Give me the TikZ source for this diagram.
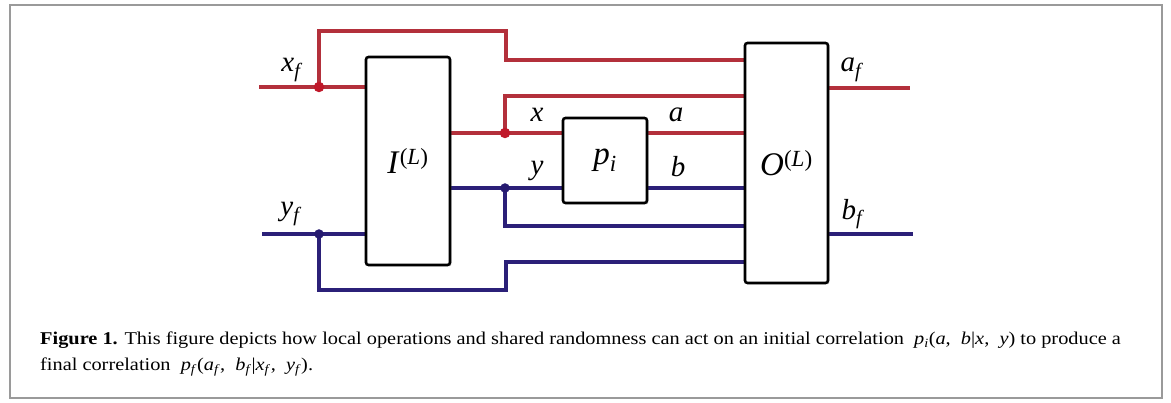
\documentclass[tikz,border=0pt]{standalone}
\usepackage{fontspec}
\setmainfont{Liberation Serif}
\newfontfamily\capfont[FakeStretch=1.13]{Liberation Serif}
\usetikzlibrary{shadows,backgrounds}
\definecolor{wred}{HTML}{B3303B}
\definecolor{wblue}{HTML}{2B2078}
\definecolor{dred}{HTML}{C0182A}
\definecolor{dblue}{HTML}{261A70}
\definecolor{framegray}{HTML}{9A9A9A}
\begin{document}
\begin{tikzpicture}[x=1pt,y=-1pt,
  wire/.style={line width=3.6pt},
  rw/.style={wire,draw=wred},
  bw/.style={wire,draw=wblue},
  box/.style={draw=black,line width=2.6pt,rounded corners=2.5pt,fill=white,
    drop shadow={shadow xshift=1.5pt,shadow yshift=-1.5pt,opacity=0.3}},
  lab/.style={font=\fontsize{29}{29}\selectfont\itshape,inner sep=0pt},
  boxlab/.style={font=\fontsize{33}{33}\selectfont,inner sep=0pt},
  rdot/.style={circle,fill=dred,inner sep=0pt,minimum size=10.5pt},
  bdot/.style={circle,fill=dblue,inner sep=0pt,minimum size=9.5pt},
  captext/.style={anchor=base west,inner sep=0pt,font=\capfont\fontsize{18}{20}\selectfont},
]
\useasboundingbox (0,0) rectangle (1171,403);
\draw[framegray,line width=2pt] (10,5) rectangle (1162,398);

% boxes
\node[box,minimum width=84pt,minimum height=208pt] (I) at (408,161) {};
\node[box,minimum width=84pt,minimum height=85pt] (P) at (605,160.5) {};
\node[box,minimum width=83pt,minimum height=240pt] (O) at (786.5,163) {};
\node[boxlab] (Il) at (I.center) {\textit{I}\textsuperscript{(\textit{L})}};
\node[boxlab] (Pl) at (P.center) {\textit{p}\textsubscript{\textit{i}}};
\node[boxlab] (Ol) at (O.center) {\textit{O}\textsuperscript{(\textit{L})}};

% junctions and wire corners
\coordinate (xin) at (259,87);
\coordinate (yin) at (262,234);
\coordinate (aout) at (910,88);
\coordinate (bout) at (913,234);
\coordinate (rtop) at (506,31);
\coordinate (rtop2) at (506,60);
\coordinate (xhi) at (505,96);
\coordinate (ylo) at (505,226);
\coordinate (rbot) at (506,290);
\coordinate (rbot2) at (506,262);
\coordinate (dxfp) at (319,87);
\coordinate (dxp) at (505,133);
\coordinate (dyp) at (505,188);
\coordinate (dyfp) at (319,234);

\begin{scope}[on background layer]
  % red wires
  \draw[rw] (xin) -- (I.west |- dxfp);
  \draw[rw] (dxfp) |- (rtop) -- (rtop2) -- (O.west |- rtop2);
  \draw[rw] (I.east |- dxp) -- (P.west |- dxp);
  \draw[rw] (dxp) -- (xhi) -- (O.west |- xhi);
  \draw[rw] (P.east |- dxp) -- (O.west |- dxp);
  \draw[rw] (O.east |- aout) -- (aout);
  % blue wires
  \draw[bw] (yin) -- (I.west |- dyfp);
  \draw[bw] (dyfp) |- (rbot) -- (rbot2) -- (O.west |- rbot2);
  \draw[bw] (I.east |- dyp) -- (P.west |- dyp);
  \draw[bw] (dyp) -- (ylo) -- (O.west |- ylo);
  \draw[bw] (P.east |- dyp) -- (O.west |- dyp);
  \draw[bw] (O.east |- bout) -- (bout);
\end{scope}

% junction dots
\node[rdot] (dxf) at (dxfp) {};
\node[rdot] (dx) at (dxp) {};
\node[bdot] (dy) at (dyp) {};
\node[bdot] (dyf) at (dyfp) {};

% wire labels
\node[lab] (lxf) at (291,70) {x\textsubscript{f}};
\node[lab] (lyf) at (290,214) {y\textsubscript{f}};
\node[lab] (lx) at (537,115) {x};
\node[lab] (ly) at (537,171) {y};
\node[lab] (la) at (676,115) {a};
\node[lab] (lb) at (678,167) {b};
\node[lab] (laf) at (851,70) {a\textsubscript{f}};
\node[lab] (lbf) at (852,214) {b\textsubscript{f}};

% caption
\node[captext] (cap1) at (40,345) {\textbf{Figure 1.} This figure depicts how local operations and shared randomness can act on an initial correlation \ \textit{p}\textsubscript{\textit{i}}(\textit{a}, \ \textit{b}|\textit{x}, \ \textit{y}) to produce a};
\node[captext] (cap2) at (40,371) {final correlation \ \textit{p}\textsubscript{\textit{f}}(\textit{a}\textsubscript{\textit{f}}, \ \textit{b}\textsubscript{\textit{f}}|\textit{x}\textsubscript{\textit{f}}, \ \textit{y}\textsubscript{\textit{f}}).};
\end{tikzpicture}
\end{document}
